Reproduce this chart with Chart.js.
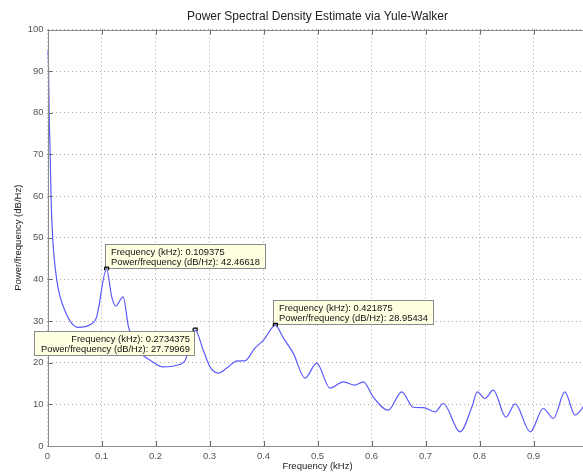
<!DOCTYPE html>
<html><head><meta charset="utf-8">
<script src="https://cdn.jsdelivr.net/npm/chart.js@4"></script>
<style>
html,body{margin:0;padding:0;overflow:hidden;background:#fff}
#wrap{width:588px;height:472px;position:relative}
</style></head>
<body><div id="wrap"><canvas id="c"></canvas></div>
<script>
const chartTitle = 'Power Spectral Density Estimate via Yule-Walker';
const xTitle = 'Frequency (kHz)';
const yTitle = 'Power/frequency (dB/Hz)';

const freqKHz = [0, 0.002, 0.003, 0.005, 0.0065, 0.0096, 0.017, 0.032, 0.057, 0.0787, 0.091, 0.109375, 0.119, 0.126, 0.140, 0.150, 0.171, 0.190, 0.214, 0.239, 0.255, 0.2734375, 0.2885, 0.301, 0.316, 0.332, 0.350, 0.366, 0.384, 0.400, 0.421875, 0.437, 0.455, 0.477, 0.4985, 0.523, 0.548, 0.569, 0.585, 0.603, 0.631, 0.656, 0.677, 0.696, 0.718, 0.733, 0.764, 0.786, 0.796, 0.810, 0.8255, 0.849, 0.866, 0.894, 0.918, 0.937, 0.958, 0.977, 1.0];
const psdDB = [95, 90, 80, 70, 60, 50, 40, 32.6, 28.5, 29.1, 31, 42.46618, 35.8, 33.6, 35.8, 28.6, 22.6, 20.6, 19.0, 19.4, 20.6, 27.79969, 23, 19, 17.5, 18.7, 20.4, 20.5, 23.5, 25.4, 28.95434, 25.9, 22.3, 16.3, 19.9, 13.9, 15.4, 14.6, 15.4, 11.8, 8.6, 13.0, 9.3, 9.2, 8.2, 10.2, 3.4, 9.4, 13, 11.4, 13.4, 6.9, 10.1, 3.4, 9.0, 6.6, 13.0, 7.4, 11];

const xTicks = [0, 0.1, 0.2, 0.3, 0.4, 0.5, 0.6, 0.7, 0.8, 0.9];
const xTickLabels = ['0', '0.1', '0.2', '0.3', '0.4', '0.5', '0.6', '0.7', '0.8', '0.9'];
const yTicks = [0, 10, 20, 30, 40, 50, 60, 70, 80, 90, 100];
const yTickLabels = ['0', '10', '20', '30', '40', '50', '60', '70', '80', '90', '100'];

const tipFreqs = [0.109375, 0.2734375, 0.421875];
const tipPowers = [42.46618, 27.79969, 28.95434];
const tipFreqText = ['0.109375', '0.2734375', '0.421875'];
const tipPowerText = ['42.46618', '27.79969', '28.95434'];
const tipSide = ['right', 'left', 'right'];

const FONT = '"Liberation Sans", Arial, Helvetica, sans-serif';
Chart.defaults.font.family = FONT;

const framePlugin = {
  id: 'frame',
  afterDatasetsDraw(chart) {
    const {ctx, chartArea: a, scales: {x, y}} = chart;
    ctx.save();
    ctx.strokeStyle = '#666';
    ctx.lineWidth = 1;
    ctx.beginPath();
    xTicks.forEach(v => {
      const px = Math.round(x.getPixelForValue(v)) + 0.5;
      ctx.moveTo(px, a.top); ctx.lineTo(px, a.top + 5);
      ctx.moveTo(px, a.bottom); ctx.lineTo(px, a.bottom - 5);
    });
    yTicks.forEach(v => {
      const py = Math.round(y.getPixelForValue(v)) + 0.5;
      ctx.moveTo(a.left, py); ctx.lineTo(a.left + 5, py);
    });
    ctx.stroke();
    ctx.strokeStyle = '#8c8c8c';
    ctx.beginPath();
    const L = Math.round(a.left) + 0.5, T = Math.round(a.top) + 0.5, B = Math.round(a.bottom) + 0.5, R = Math.round(a.right) + 0.5;
    ctx.moveTo(L, T); ctx.lineTo(R, T);
    ctx.moveTo(L, T); ctx.lineTo(L, B); ctx.lineTo(R, B);
    ctx.stroke();
    ctx.fillStyle = '#222';
    ctx.font = '12px ' + FONT;
    ctx.textAlign = 'center';
    ctx.textBaseline = 'middle';
    ctx.fillText(chartTitle, (a.left + a.right) / 2, 17);
    ctx.restore();
  }
};

const datatipPlugin = {
  id: 'datatips',
  afterDraw(chart) {
    const {ctx, scales: {x, y}} = chart;
    ctx.save();
    ctx.font = '9.4px ' + FONT;
    ctx.textBaseline = 'middle';
    tipFreqs.forEach((f, i) => {
      const px = x.getPixelForValue(f), py = y.getPixelForValue(tipPowers[i]);
      const l1 = 'Frequency (kHz): ' + tipFreqText[i];
      const l2 = 'Power/frequency (dB/Hz): ' + tipPowerText[i];
      const w = Math.round(Math.max(ctx.measureText(l1).width, ctx.measureText(l2).width) + 11);
      const h = 24;
      let bx, by;
      if (tipSide[i] === 'left') { bx = Math.round(px - 1 - w); by = Math.round(py + 0.5); }
      else { bx = Math.round(px - 2); by = Math.round(py - 1.5 - h); }
      ctx.fillStyle = '#ffffe1';
      ctx.fillRect(bx, by, w, h);
      ctx.strokeStyle = '#8a8a8a';
      ctx.lineWidth = 1;
      ctx.strokeRect(bx + 0.5, by + 0.5, w, h);
      ctx.fillStyle = '#111';
      if (tipSide[i] === 'left') {
        ctx.textAlign = 'right';
        ctx.fillText(l1, bx + w - 4, by + 8.5);
        ctx.fillText(l2, bx + w - 4, by + 18.5);
      } else {
        ctx.textAlign = 'left';
        ctx.fillText(l1, bx + 6, by + 8.5);
        ctx.fillText(l2, bx + 6, by + 18.5);
      }
      ctx.strokeStyle = '#000';
      ctx.lineWidth = 1.2;
      ctx.beginPath();
      ctx.moveTo(px - 2, py - 2); ctx.lineTo(px + 2, py - 2); ctx.lineTo(px + 2, py + 1);
      ctx.moveTo(px - 2, py - 2); ctx.lineTo(px - 2, py + 1);
      ctx.stroke();
    });
    ctx.restore();
  }
};

new Chart(document.getElementById('c'), {
  type: 'line',
  data: {
    datasets: [{
      data: freqKHz.map((f, i) => ({x: f, y: psdDB[i]})),
      borderColor: 'rgb(90,90,255)',
      borderWidth: 1.2,
      pointRadius: 0,
      fill: false,
      cubicInterpolationMode: 'monotone'
    }]
  },
  options: {
    responsive: true,
    maintainAspectRatio: false,
    animation: false,
    devicePixelRatio: 1,
    layout: {padding: {top: 29.5, right: 0.5, left: 0, bottom: 0}},
    plugins: {legend: {display: false}, tooltip: {enabled: false}, title: {display: false}},
    scales: {
      x: {
        type: 'linear', min: 0, max: 1,
        afterBuildTicks: s => { s.ticks = xTicks.map(v => ({value: v})); },
        afterFit: s => { s.height = 26; s.paddingLeft = 0; s.paddingRight = 0; },
        grid: {color: '#a8a8a8', lineWidth: 1, drawTicks: false},
        border: {display: false, dash: [1, 3]},
        ticks: {padding: 5, color: '#555', font: {size: 9.5}, maxRotation: 0, autoSkip: false,
                callback: (v, i) => xTickLabels[i]},
        title: {display: true, text: xTitle, color: '#222', font: {size: 9.5}, padding: {top: 0, bottom: 0}}
      },
      y: {
        type: 'linear', min: 0, max: 100,
        afterBuildTicks: s => { s.ticks = yTicks.map(v => ({value: v})); },
        afterFit: s => { s.width = 47.5; s.paddingTop = 0; s.paddingBottom = 0; },
        grid: {color: '#a8a8a8', lineWidth: 1, drawTicks: false},
        border: {display: false, dash: [1, 3]},
        ticks: {padding: 4, color: '#555', font: {size: 9.5}, autoSkip: false,
                callback: (v, i) => yTickLabels[i]},
        title: {display: true, text: yTitle, color: '#222', font: {size: 9.5}, padding: {top: 13, bottom: 0}}
      }
    }
  },
  plugins: [framePlugin, datatipPlugin]
});
</script>
</body></html>
